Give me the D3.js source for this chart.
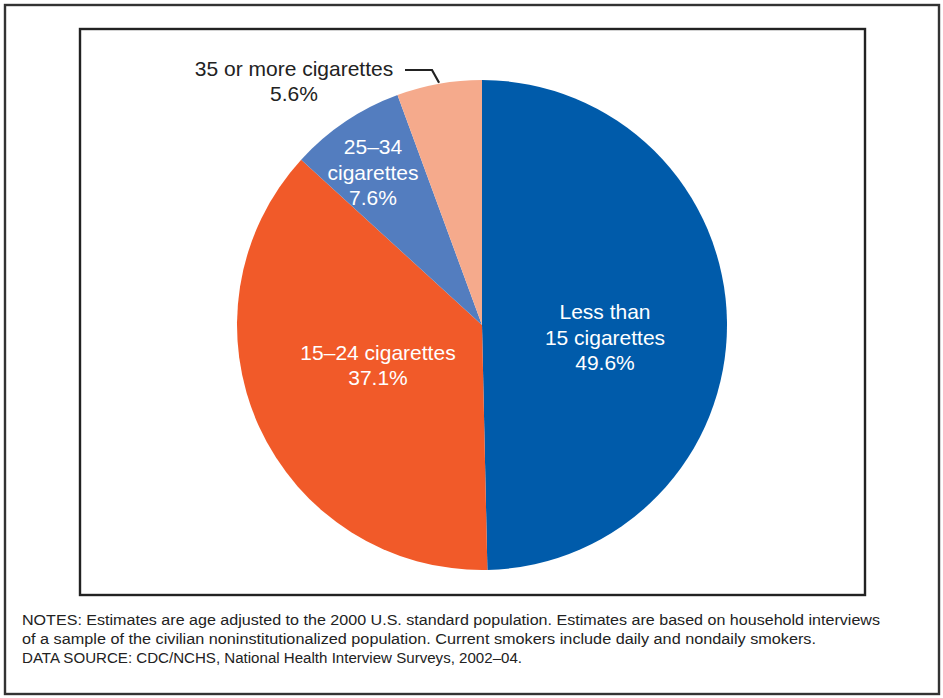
<!DOCTYPE html>
<html><head><meta charset="utf-8">
<script src="https://cdn.jsdelivr.net/npm/d3@7"></script>
<style>body{margin:0;background:#fff}svg{display:block}</style>
</head><body>
<script>
const categories = ["Less than 15 cigarettes", "15–24 cigarettes", "25–34 cigarettes", "35 or more cigarettes"];
const values = [49.6, 37.1, 7.6, 5.6];
const colors = ["#005BAA", "#F15A29", "#537DBF", "#F5AA8C"];
const labelLines = [["Less than", "15 cigarettes", "49.6%"], ["15–24 cigarettes", "37.1%"], ["25–34", "cigarettes", "7.6%"], ["35 or more cigarettes", "5.6%"]];
const notes = [
  "NOTES: Estimates are age adjusted to the 2000 U.S. standard population. Estimates are based on household interviews",
  "of a sample of the civilian noninstitutionalized population. Current smokers include daily and nondaily smokers.",
  "DATA SOURCE: CDC/NCHS, National Health Interview Surveys, 2002–04."
];

const W = 943, H = 698;
const svg = d3.select("body").append("svg").attr("width", W).attr("height", H);
svg.append("rect").attr("x", 5).attr("y", 5).attr("width", 934).attr("height", 689)
  .attr("fill", "none").attr("stroke", "#333").attr("stroke-width", 2.4);
svg.append("rect").attr("x", 80).attr("y", 29).attr("width", 785).attr("height", 566)
  .attr("fill", "none").attr("stroke", "#222").attr("stroke-width", 2.4);

const cx = 482, cy = 325, r = 245;
const pie = d3.pie().sort(null).value(d => d)(values);
const arc = d3.arc().innerRadius(0).outerRadius(r);
const g = svg.append("g").attr("transform", `translate(${cx},${cy})`);
g.selectAll("path").data(pie).join("path").attr("d", arc).attr("fill", (d, i) => colors[i]);

const font = "'Liberation Sans', Arial, Helvetica, sans-serif";
// label block centres, relative to pie centre
const labelPos = [[123, 12], [-104, 40], [-109, -153], [-188, -244]];
const lh = 25.5;
labelLines.forEach((lines, i) => {
  const [lx, ly] = labelPos[i];
  const t = g.append("text").attr("text-anchor", "middle")
    .attr("font-family", font).attr("font-size", 21)
    .attr("fill", i === 3 ? "#222" : "#fff");
  lines.forEach((s, k) => {
    t.append("tspan").attr("x", lx).attr("y", ly + (k - (lines.length - 1) / 2) * lh + 7.5).text(s);
  });
});
// leader line for smallest slice
const mid = pie[3];
const ma = (mid.startAngle + mid.endAngle) / 2;
const ex = Math.sin(ma) * r, ey = -Math.cos(ma) * r;
g.append("path").attr("d", d3.line()([[-77, -255], [-50, -255], [ex, ey - 1]]))
  .attr("fill", "none").attr("stroke", "#222").attr("stroke-width", 2.2);

const nt = svg.append("g").attr("font-family", font).attr("font-size", 15.5).attr("fill", "#222");
const widths = [858, 794, 500];
notes.forEach((s, i) => {
  nt.append("text").attr("x", 22).attr("y", 625 + i * 19).text(s)
    .attr("textLength", widths[i]).attr("lengthAdjust", "spacingAndGlyphs");
});
</script>
</body></html>
